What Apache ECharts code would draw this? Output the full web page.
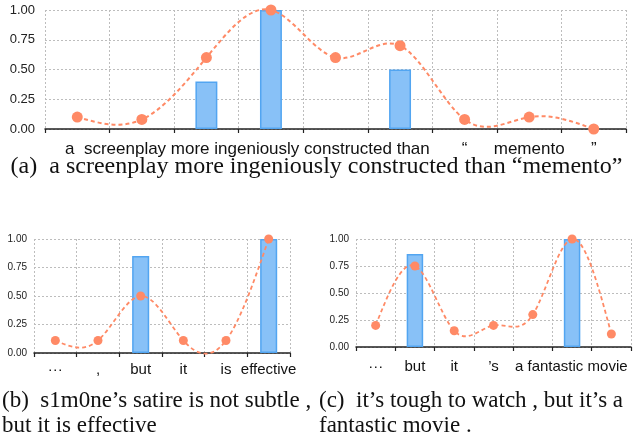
<!DOCTYPE html>
<html>
<head>
<meta charset="utf-8">
<script src="https://cdn.jsdelivr.net/npm/echarts@6/dist/echarts.min.js"></script>
<style>
  html, body { margin: 0; padding: 0; background: #fff; }
  #chart { width: 633px; height: 445px; }
</style>
</head>
<body>
<div id="chart"></div>
<script>
// ---- data ----
const catsA = ['a', 'screenplay', 'more', 'ingeniously', 'constructed', 'than', '\u201c', 'memento', '\u201d'];
const barA  = [null, null, 0.40, 1.00, null, 0.50, null, null, null];
const lineA = [0.10, 0.08, 0.60, 1.00, 0.60, 0.70, 0.08, 0.10, 0.00];

const catsB = ['\u00b7\u00b7\u00b7', ',', 'but', 'it', 'is', 'effective'];
const barB  = [null, null, 0.85, null, null, 1.00];
const lineB = [0.11, 0.11, 0.50, 0.11, 0.11, 1.00];

const catsC = ['\u00b7\u00b7\u00b7', 'but', 'it', '\u2019s', 'a', 'fantastic', 'movie'];
const barC  = [null, 0.86, null, null, null, 1.00, null];
const lineC = [0.20, 0.75, 0.15, 0.20, 0.30, 1.00, 0.12];

const captionA = '(a)  a screenplay more ingeniously constructed than \u201cmemento\u201d';
const captionB = '(b)  s1m0ne\u2019s satire is not subtle ,\nbut it is effective';
const captionC = '(c)  it\u2019s tough to watch , but it\u2019s a\nfantastic movie .';

// ---- styles ----
const SANS = '"Liberation Sans", Arial, Helvetica, sans-serif';
const SERIF = '"Liberation Serif", "Times New Roman", serif';
const GRID_LINE = { type: [2, 2], color: '#bdbdbd', width: 1 };
const BAR_FILL = '#88c1f7';
const BAR_EDGE = '#52a5f1';
const DOT = '#ff8a66';

// natural cubic spline through pixel points, as an SVG path of bezier segments
function splinePath(pts) {
  const n = pts.length;
  const h = [];
  for (let i = 0; i < n - 1; i++) h.push(pts[i + 1][0] - pts[i][0]);
  const M = new Array(n).fill(0);
  const a = [], b = [], c = [], d = [];
  for (let i = 1; i < n - 1; i++) {
    a.push(h[i - 1]); b.push(2 * (h[i - 1] + h[i])); c.push(h[i]);
    d.push(6 * ((pts[i + 1][1] - pts[i][1]) / h[i] - (pts[i][1] - pts[i - 1][1]) / h[i - 1]));
  }
  const m = b.length;
  for (let i = 1; i < m; i++) {
    const w = a[i] / b[i - 1];
    b[i] -= w * c[i - 1];
    d[i] -= w * d[i - 1];
  }
  const sol = new Array(m);
  for (let i = m - 1; i >= 0; i--) sol[i] = (d[i] - (i < m - 1 ? c[i] * sol[i + 1] : 0)) / b[i];
  for (let i = 0; i < m; i++) M[i + 1] = sol[i];
  let p = 'M' + pts[0][0] + ' ' + pts[0][1];
  for (let i = 0; i < n - 1; i++) {
    const x0 = pts[i][0], y0 = pts[i][1], x1 = pts[i + 1][0], y1 = pts[i + 1][1], hh = h[i];
    const s = (y1 - y0) / hh;
    const m0 = s - hh * (2 * M[i] + M[i + 1]) / 6;
    const m1 = s + hh * (M[i] + 2 * M[i + 1]) / 6;
    p += ' C' + (x0 + hh / 3) + ' ' + (y0 + m0 * hh / 3) + ' ' + (x1 - hh / 3) + ' ' + (y1 - m1 * hh / 3) + ' ' + x1 + ' ' + y1;
  }
  return p;
}

function xAxis(gridIndex, data, fontSize, margin, formatter) {
  return {
    type: 'category', gridIndex, data,
    boundaryGap: true,
    axisLine: { show: true, lineStyle: { color: '#222', width: 1.5 } },
    axisTick: { show: true, length: 4, interval: 0, lineStyle: { color: '#222', width: 1.2 } },
    splitLine: { show: true, interval: 0, lineStyle: GRID_LINE },
    axisLabel: {
      show: true, interval: 0, fontSize, margin, color: '#111', fontFamily: SANS,
      formatter: formatter || (v => v)
    }
  };
}
function yAxis(gridIndex, fontSize, margin) {
  return {
    type: 'value', gridIndex, min: 0, max: 1, interval: 0.25,
    axisLine: { show: false }, axisTick: { show: false },
    splitLine: { show: true, lineStyle: GRID_LINE },
    axisLabel: { fontSize, margin, color: '#222', fontFamily: SANS, formatter: v => v.toFixed(2) }
  };
}
function barSeries(idx, data, width) {
  return {
    type: 'bar', xAxisIndex: idx, yAxisIndex: idx, data, barWidth: width,
    itemStyle: { color: BAR_FILL, borderColor: BAR_EDGE, borderWidth: 1.5 },
    silent: true, animation: false, z: 2
  };
}
function curveSeries(idx, values, lw) {
  return {
    type: 'custom', xAxisIndex: idx, yAxisIndex: idx,
    data: values.map((v, i) => [i, v]),
    encode: { x: 0, y: 1 },
    clip: false, silent: true, animation: false, z: 3,
    renderItem: function (params, api) {
      if (params.dataIndex !== 0) return null;
      const pts = values.map((v, i) => api.coord([i, v]));
      return {
        type: 'path',
        shape: { pathData: splinePath(pts) },
        style: { fill: 'none', stroke: DOT, lineWidth: lw, lineDash: [4, 3] }
      };
    }
  };
}
function dotSeries(idx, data, size) {
  return {
    type: 'scatter', xAxisIndex: idx, yAxisIndex: idx, data,
    symbol: 'circle', symbolSize: size,
    itemStyle: { color: DOT, opacity: 1 },
    silent: true, animation: false, z: 4
  };
}

const chart = echarts.init(document.getElementById('chart'), null, { renderer: 'canvas' });
chart.setOption({
  animation: false,
  backgroundColor: '#fff',
  grid: [
    { left: 45, top: 10, width: 581, height: 119 },
    { left: 34, top: 239, width: 256, height: 114 },
    { left: 356, top: 239, width: 275, height: 108 }
  ],
  xAxis: [
    xAxis(0, catsA, 17, 12, (v, i) => (i < 6 ? '' : v)),
    xAxis(1, catsB, 15, 9),
    xAxis(2, catsC, 15, 12, (v, i) => (i < 4 ? v : ''))
  ],
  yAxis: [yAxis(0, 13, 10), yAxis(1, 10, 7), yAxis(2, 10, 7)],
  series: [
    barSeries(0, barA, '34%'), curveSeries(0, lineA, 2), dotSeries(0, lineA, 11),
    barSeries(1, barB, '40%'), curveSeries(1, lineB, 1.8), dotSeries(1, lineB, 9),
    barSeries(2, barC, '42%'), curveSeries(2, lineC, 1.8), dotSeries(2, lineC, 9)
  ],
  graphic: [
    { type: 'text', left: 65, top: 141,
      style: { text: catsA[0] + '  ' + catsA.slice(1, 6).join(' '), font: '17px ' + SANS, fill: '#111' } },
    { type: 'text', left: 515, top: 359,
      style: { text: catsC.slice(4).join(' '), font: '15px ' + SANS, fill: '#111' } },
    { type: 'text', left: 'center', top: 155,
      style: { text: captionA, font: '24px ' + SERIF, fill: '#111' } },
    { type: 'text', left: 2, top: 389,
      style: { text: captionB, font: '23px ' + SERIF, fill: '#111', lineHeight: 24.5 } },
    { type: 'text', left: 319, top: 389,
      style: { text: captionC, font: '23px ' + SERIF, fill: '#111', lineHeight: 24.5 } }
  ]
});
</script>
</body>
</html>
